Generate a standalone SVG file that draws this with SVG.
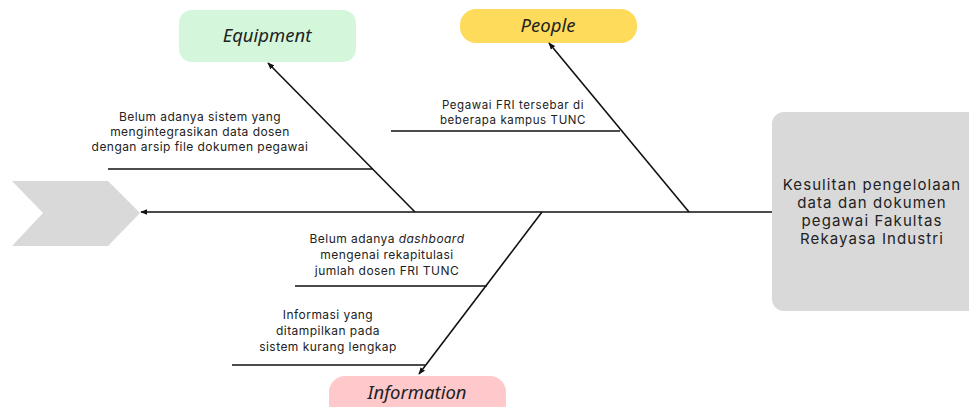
<svg xmlns="http://www.w3.org/2000/svg" width="969" height="407" viewBox="0 0 969 407">
<defs>
<marker id="ah" viewBox="0 0 10 10" refX="9" refY="5" markerWidth="7" markerHeight="7" orient="auto" markerUnits="userSpaceOnUse">
<path d="M0,1 L10,5 L0,9 z" fill="#111"/>
</marker>
<style>
.ln{stroke:#111;stroke-width:1.6;fill:none}
.t{font-family:Inter,"Noto Sans","Liberation Sans",sans-serif;fill:#222;text-anchor:middle}
.s{font-size:12px;letter-spacing:0.45px}
.s2{font-size:11.5px;letter-spacing:0.6px}
.cat{font-family:"Noto Sans","Liberation Sans",sans-serif;font-size:18.5px;font-style:italic}
.main{font-size:15px;letter-spacing:1.1px}
</style>
</defs>
<rect width="969" height="407" fill="#fff"/>
<g id="head-chevron">
<polygon points="12,181 108,181 140,213 108,246 12,246 43,213" fill="#d9d9d9"/>
</g>
<g id="problem">
<rect x="772" y="112" width="210" height="199" rx="12" fill="#d9d9d9"/>
<text class="t main" x="872"><tspan x="872" y="190">Kesulitan pengelolaan</tspan><tspan x="872" y="208">data dan dokumen</tspan><tspan x="872" y="226">pegawai Fakultas</tspan><tspan x="872" y="244">Rekayasa Industri</tspan></text>
</g>
<g id="equipment">
<rect x="179" y="10" width="177" height="52" rx="13" fill="#d4f7dc"/>
<text class="t cat" x="267" y="42">Equipment</text>
</g>
<g id="people">
<rect x="460" y="9" width="177" height="34" rx="16" fill="#ffdb5c"/>
<text class="t cat" x="548" y="32">People</text>
</g>
<g id="information">
<rect x="329" y="376" width="177" height="44" rx="16" fill="#ffc9cc"/>
<text class="t cat" x="417" y="399">Information</text>
</g>
<g id="connectors">
<line class="ln" x1="772" y1="212" x2="141" y2="212" marker-end="url(#ah)"/>
<line class="ln" x1="415" y1="212" x2="268" y2="63" marker-end="url(#ah)"/>
<line class="ln" x1="689" y1="212" x2="549" y2="43" marker-end="url(#ah)"/>
<line class="ln" x1="542" y1="212" x2="419" y2="374" marker-end="url(#ah)"/>
<line class="ln" x1="108" y1="169" x2="373" y2="169"/>
<line class="ln" x1="391" y1="131" x2="620" y2="131"/>
<line class="ln" x1="295" y1="286" x2="487" y2="286"/>
<line class="ln" x1="232" y1="365" x2="425" y2="365"/>
</g>
<g id="cause-equipment">
<text class="t s" x="200"><tspan x="200" y="121">Belum adanya sistem yang</tspan><tspan x="200" y="136">mengintegrasikan data dosen</tspan><tspan x="200" y="151">dengan arsip file dokumen pegawai</tspan></text>
</g>
<g id="cause-people">
<text class="t s2" x="513"><tspan x="513" y="109">Pegawai FRI tersebar di</tspan><tspan x="513" y="124">beberapa kampus TUNC</tspan></text>
</g>
<g id="cause-info-1">
<text class="t s" x="387"><tspan x="387" y="243">Belum adanya <tspan font-style="italic">dashboard</tspan></tspan><tspan x="387" y="259">mengenai rekapitulasi</tspan><tspan x="387" y="275">jumlah dosen FRI TUNC</tspan></text>
</g>
<g id="cause-info-2">
<text class="t s" x="328"><tspan x="328" y="319">Informasi yang</tspan><tspan x="328" y="335">ditampilkan pada</tspan><tspan x="328" y="351">sistem kurang lengkap</tspan></text>
</g>
</svg>
